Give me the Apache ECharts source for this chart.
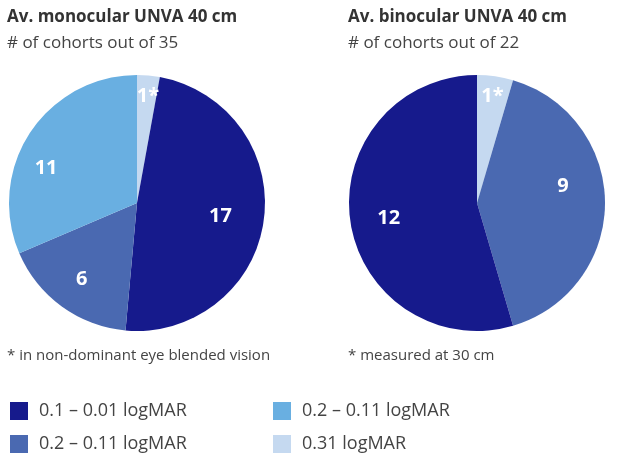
<!DOCTYPE html>
<html><head><meta charset="utf-8">
<script src="https://cdn.jsdelivr.net/npm/echarts@6/dist/echarts.min.js"></script>
<style>html,body{margin:0;padding:0;background:#fff}#c{width:625px;height:464px}</style>
</head><body><div id="c"></div>
<script>
// Categories (legend labels) and their colours
const categoryKeys = ["c01", "c02", "c11", "c31"];
const categoryLabels = ["0.1 – 0.01 logMAR", "0.2 – 0.11 logMAR", "0.2 – 0.11 logMAR", "0.31 logMAR"];
const categoryColors = ["#161a8c", "#4a69b1", "#69afe1", "#c5d9f0"];

// Monocular pie (clockwise from 12 o'clock)
const monoCats = ["c31", "c01", "c02", "c11"];
const monoValues = [1, 17, 6, 11];
const monoStar = [true, false, false, false];

// Binocular pie
const binoCats = ["c31", "c02", "c01"];
const binoValues = [1, 9, 12];
const binoStar = [true, false, false];

const titles = ["Av. monocular UNVA 40 cm", "Av. binocular UNVA 40 cm"];
const subtitles = ["# of cohorts out of 35", "# of cohorts out of 22"];
const footnotes = ["* in non-dominant eye blended vision", "* measured at 30 cm"];

// label nudges (style only)
const monoOffsets = [[5, -40], [17, 4], [-16, 22], [-35, 2]];
const binoOffsets = [[6, -40], [19, -17], [-22, 6]];

const FONT = "'Open Sans', 'Noto Sans', sans-serif";
function colorOf(k) { return categoryColors[categoryKeys.indexOf(k)]; }
function buildData(cats, vals, stars, offs) {
  return cats.map((k, i) => ({
    name: k, value: vals[i], star: stars[i],
    itemStyle: { color: colorOf(k) },
    label: { offset: offs[i] }
  }));
}
function pieSeries(center, cats, vals, stars, offs) {
  return {
    type: 'pie', center: center, radius: 128, startAngle: 90, clockwise: true,
    silent: true, animation: false,
    itemStyle: { borderWidth: 0 },
    label: {
      show: true, position: 'inside', color: '#fff', fontFamily: FONT,
      fontWeight: 'bold', fontSize: 20,
      formatter: p => p.value + (p.data.star ? '*' : '')
    },
    labelLine: { show: false },
    emphasis: { disabled: true },
    data: buildData(cats, vals, stars, offs)
  };
}
const chart = echarts.init(document.getElementById('c'), null, { renderer: 'canvas' });
const legendCommon = {
  orient: 'vertical', itemWidth: 18, itemHeight: 18, itemGap: 15, icon: 'rect',
  selectedMode: false, padding: 0,
  textStyle: { fontFamily: FONT, fontSize: 18, lineHeight: 18, color: '#444', padding: [0, 0, 0, 6] },
  formatter: n => categoryLabels[categoryKeys.indexOf(n)]
};
const titleStyle = { fontFamily: FONT, fontSize: 17, fontWeight: 'bold', color: '#333' };
const subStyle = { fontFamily: FONT, fontSize: 17, color: '#444' };
const noteStyle = { fontFamily: FONT, fontSize: 15, fontWeight: 'normal', color: '#444' };
chart.setOption({
  animation: false,
  title: [
    { text: titles[0], subtext: subtitles[0], left: 2, top: 4, itemGap: 9,
      textStyle: titleStyle, subtextStyle: subStyle },
    { text: titles[1], subtext: subtitles[1], left: 343, top: 4, itemGap: 9,
      textStyle: titleStyle, subtextStyle: subStyle },
    { text: footnotes[0], left: 2, top: 343, textStyle: noteStyle },
    { text: footnotes[1], left: 343, top: 343, textStyle: noteStyle }
  ],
  legend: [
    Object.assign({ left: 10, top: 402, data: [categoryKeys[0], categoryKeys[1]] }, legendCommon),
    Object.assign({ left: 273, top: 402, data: [categoryKeys[2], categoryKeys[3]] }, legendCommon)
  ],
  series: [
    pieSeries([137, 203], monoCats, monoValues, monoStar, monoOffsets),
    pieSeries([477, 203], binoCats, binoValues, binoStar, binoOffsets)
  ]
});
</script></body></html>
